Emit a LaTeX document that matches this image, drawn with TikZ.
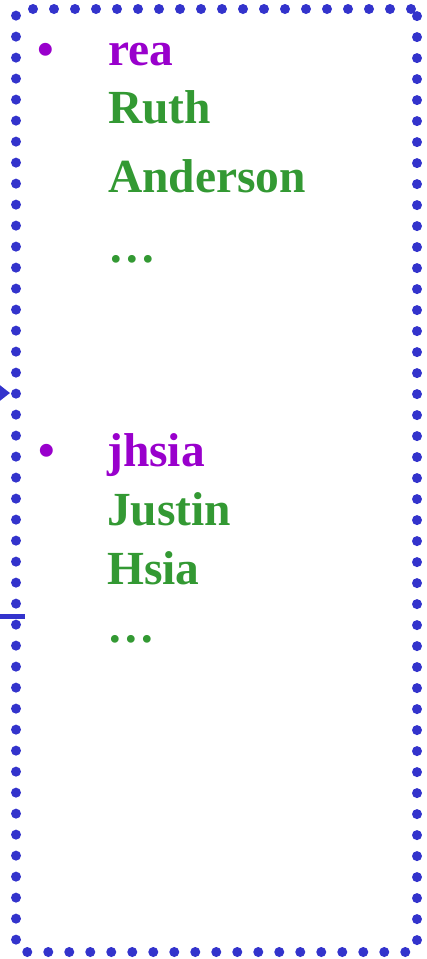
\documentclass[tikz,border=0pt]{standalone}
\usepackage{fontspec}
\setmainfont{Liberation Serif}
\definecolor{dotblue}{RGB}{51,51,204}
\definecolor{idpurple}{RGB}{153,0,204}
\definecolor{namegreen}{RGB}{51,153,51}
\usetikzlibrary{arrows.meta,positioning}

\begin{document}
\begin{tikzpicture}[x=1pt, y=-1pt,
    frame/.style={draw=dotblue, line width=10pt, line cap=round,
      dash pattern=on 0pt off 21pt, rounded corners=6pt, inner sep=0pt},
    item/.style={anchor=base west, inner sep=0pt, font=\fontsize{47.5}{56}\selectfont\bfseries},
    uid/.style={item, text=idpurple},
    uname/.style={item, text=namegreen},
    arr/.style={-{Triangle[length=10pt, width=15pt]}, line width=2pt, dotblue},
    stub/.style={line width=5pt, dotblue}
  ]
    \useasboundingbox (0,0) rectangle (426,959);
    \clip (0,0) rectangle (426,959);

    \node[frame, minimum width=401pt, minimum height=943pt] (box) at (216.5,480.5) {};

    % first entry
    \node[uid] (b1) at (37,65) {•};
    \node[uid] (id1) at (108,65) {rea};
    \node[uname] (first1) at (108,123) {Ruth};
    \node[uname] (last1) at (108,192) {Anderson};
    \node[uname] (more1) at (108,262) {…};

    % second entry
    \node[uid] (b2) at (38,466) {•};
    \node[uid] (id2) at (107,466) {jhsia};
    \node[uname] (first2) at (107,525) {Justin};
    \node[uname] (last2) at (107,584) {Hsia};
    \node[uname] (more2) at (107,642) {…};

    % links from outside
    \coordinate (inlink) at (-40,393);
    \coordinate (intip) at (10,393);
    \draw[arr] (inlink) -- (intip);
    \coordinate (outlink) at (-40,616);
    \coordinate (outend) at (25,616);
    \draw[stub] (outlink) -- (outend);
\end{tikzpicture}
\end{document}
